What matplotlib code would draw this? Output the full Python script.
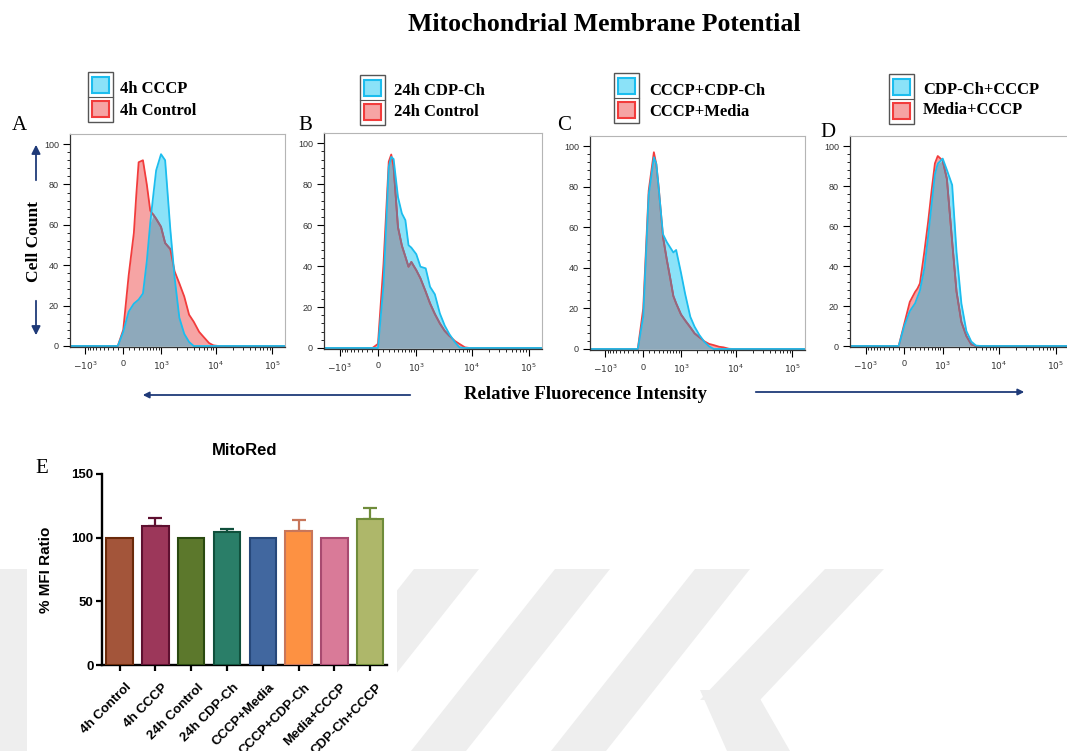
import numpy as np
import matplotlib.pyplot as plt
import matplotlib.transforms as mtransforms
from matplotlib.patches import Rectangle, Polygon, FancyArrowPatch

plt.rcParams['font.family'] = ['Liberation Serif', 'DejaVu Serif']

W, H = 1067, 751

# fluorescence channel values shared by the four histograms
fluor = np.array([-2000, -200, -100, 0, 100, 200, 250, 300, 400, 500, 600, 700,
                  800, 1000, 1200, 1500, 1800, 2200, 2700, 3300, 4000, 5000,
                  6000, 7500, 9000, 11000, 13000, 200000])

# cell counts (cyan = treated, red = reference)
a_cccp = [0, 0, 0, 7, 17, 21, 22, 23, 26, 42, 61, 75, 87, 95, 92, 58, 34, 14, 6, 2, 0, 0, 0, 0, 0, 0, 0, 0]
a_control = [0, 0, 0, 8, 35, 56, 75, 91, 92, 80, 67, 65, 63, 59, 51, 48, 37, 31, 24.5, 15.5, 12, 7, 4.5, 1.5, 0.3, 0, 0, 0]
b_cdpch = [0, 0, 0, 0, 30.7, 88.5, 93.3, 92.3, 73.7, 65.7, 62.4, 50.2, 49, 45.8, 39.7, 38.9, 29.9, 26.2, 16.9, 10.9, 6.7, 2.8, 0.3, 0, 0, 0, 0, 0]
b_control = [0, 0, 0, 2, 41, 91, 94.5, 88.5, 59, 50, 44.6, 39.7, 42, 38, 34, 27.5, 21.8, 16.6, 12, 8.3, 5.9, 3.4, 2, 0.3, 0, 0, 0, 0]
c_cdpch = [0, 0, 0, 16, 76, 94.5, 91.3, 79.5, 56.6, 52.7, 50, 47.6, 48.8, 37.5, 27.2, 15.9, 11, 6.9, 3.6, 1.3, 0, 0, 0, 0, 0, 0, 0, 0]
c_media = [0, 0, 0, 20, 78, 97, 91, 80, 55.4, 44, 34.8, 26.1, 22.5, 17, 14.1, 10.7, 7.7, 5.8, 3.8, 2.5, 1.9, 1.1, 0.8, 0.1, 0, 0, 0, 0]
d_cdpch = [0, 0, 0, 10, 17.4, 21.3, 24.6, 27.7, 38.8, 55.5, 71.5, 85.8, 91.2, 93.7, 88, 80.5, 47, 21.3, 7.5, 2.2, 0.2, 0, 0, 0, 0, 0, 0, 0]
d_media = [0, 0, 0, 11, 22, 27, 28.8, 31.3, 47, 62.5, 78.3, 91.3, 95, 92.7, 83.5, 52.2, 27.2, 12, 5, 0.8, 0, 0, 0, 0, 0, 0, 0, 0]

legend_labels = [("4h CCCP", "4h Control"), ("24h CDP-Ch", "24h Control"),
                 ("CCCP+CDP-Ch", "CCCP+Media"), ("CDP-Ch+CCCP", "Media+CCCP")]

bar_names = ["4h Control", "4h CCCP", "24h Control", "24h CDP-Ch",
             "CCCP+Media", "CCCP+CDP-Ch", "Media+CCCP", "CDP-Ch+CCCP"]
bar_values = [100, 109.2, 100, 104.7, 100, 105.5, 100, 114.4]
bar_err = [0, 6.0, 0, 2.1, 0, 8.4, 0, 8.7]
bar_fill = ['#a3553a', '#9c375a', '#5c782c', '#2a7e68', '#41679f', '#fd9142', '#d97a98', '#aeb76a']
bar_edge = ['#6b2a0a', '#5e1030', '#2a4a10', '#10503c', '#27487a', '#c8765a', '#a84a70', '#6f8c3a']

NAVY = '#1f3a78'


def px_box(l, t, r, b):
    return [l / W, 1 - b / H, (r - l) / W, (b - t) / H]


def fxy(x, y):
    return (x / W, 1 - y / H)


fig = plt.figure(figsize=(W / 100, H / 100), dpi=100)

# faint watermark behind the lower half
watermark = [
    [(0, 569), (27, 569), (27, 751), (0, 751)],
    [(414, 569), (479, 569), (335, 751), (270, 751)],
    [(555, 569), (610, 569), (466, 751), (411, 751)],
    [(695, 569), (750, 569), (606, 751), (551, 751)],
    [(825, 569), (884, 569), (760, 700), (700, 700)],
    [(700, 690), (755, 690), (790, 751), (727, 751)],
]
for poly in watermark:
    fig.add_artist(Polygon([fxy(*p) for p in poly], closed=True, transform=fig.transFigure,
                           facecolor='#eeeeee', edgecolor='none', zorder=-3))
fig.add_artist(Rectangle(fxy(27, 751), 370 / W, 331 / H, transform=fig.transFigure,
                         facecolor='white', edgecolor='none', zorder=-2))


def histogram(rect, cyan, red):
    cyan = np.asarray(cyan, float)
    red = np.asarray(red, float)
    ax = fig.add_axes(px_box(*rect))
    ax.set_xscale('asinh', linear_width=444)
    ax.fill_between(fluor, 0, red, color='#f6a4a4', lw=0)
    ax.fill_between(fluor, 0, cyan, color='#8be2f8', lw=0)
    ax.fill_between(fluor, 0, np.minimum(cyan, red), color='#8ea9bb', lw=0)
    ax.plot(fluor, red, color='#f23c3c', lw=1.3)
    ax.plot(fluor, np.where(red < cyan, red, np.nan), color='#8d6a84', lw=1.3)
    ax.plot(fluor, cyan, color='#1cbdee', lw=1.3)
    ax.set_xlim(-1950, 170000)
    ax.set_ylim(-0.5, 105)
    ax.set_xticks([-1000, 0, 1000, 1e4, 1e5], ['$-10^3$', '0', '$10^3$', '$10^4$', '$10^5$'])
    minor = (list(range(-900, 0, 100)) + list(range(100, 1000, 100))
             + list(range(2000, 10000, 1000)) + list(range(20000, 100000, 10000)))
    ax.set_xticks(minor, minor=True)
    ax.set_yticks(range(0, 101, 20))
    ax.set_yticks(range(0, 101, 4), minor=True)
    ax.tick_params(which='major', length=5, width=0.8, labelsize=6.5, labelcolor='#333333', pad=3)
    ax.tick_params(which='minor', length=2.5, width=0.6)
    ax.tick_params(axis='x', which='major', pad=4)
    for lbl in ax.get_xticklabels() + ax.get_yticklabels():
        lbl.set_family('Liberation Sans')
    for side in ('top', 'right'):
        ax.spines[side].set_color('#b5b5b5')
        ax.spines[side].set_linewidth(0.8)
    for side in ('left', 'bottom'):
        ax.spines[side].set_color('#333333')
        ax.spines[side].set_linewidth(0.9)
    return ax


def legend(box, text_x, baselines, labels):
    l, t, r, b = box
    mid = (t + b) / 2
    fig.add_artist(Rectangle(fxy(l, b), (r - l) / W, (b - t) / H, transform=fig.transFigure,
                             facecolor='white', edgecolor='#555555', lw=1.0))
    fig.add_artist(plt.Line2D([l / W, r / W], [1 - mid / H] * 2, transform=fig.transFigure,
                              color='#555555', lw=0.8))
    fig.add_artist(Rectangle(fxy(l + 4, mid - 4), (r - l - 8) / W, (mid - t - 9) / H,
                             transform=fig.transFigure, facecolor='#8be2f8',
                             edgecolor='#1cbdee', lw=1.5))
    fig.add_artist(Rectangle(fxy(l + 4, b - 5), (r - l - 8) / W, (b - mid - 9) / H,
                             transform=fig.transFigure, facecolor='#f6a4a4',
                             edgecolor='#f23c3c', lw=1.5))
    for lab, yb in zip(labels, baselines):
        fig.text(text_x / W, 1 - yb / H, lab, fontsize=12, fontweight='bold', va='baseline')


panels = [
    ((70, 134, 285, 347), a_cccp, a_control, (88, 72, 113, 122), 120, (93, 115), 'A', (12, 130)),
    ((324, 133, 542, 349), b_cdpch, b_control, (360, 75, 385, 125), 394, (95, 116), 'B', (298, 130)),
    ((590, 136, 805, 350), c_cdpch, c_media, (614, 73, 639, 123), 649, (95, 116), 'C', (557, 130)),
    ((850, 136, 1069, 347), d_cdpch, d_media, (889, 74, 914, 124), 923, (94, 114), 'D', (820, 137)),
]
for i, (rect, cy, rd, lbox, tx, bl, letter, lpos) in enumerate(panels):
    histogram(rect, cy, rd)
    legend(lbox, tx, bl, legend_labels[i])
    fig.text(lpos[0] / W, 1 - lpos[1] / H, letter, fontsize=15, va='baseline')

fig.text(604 / W, 1 - 31 / H, 'Mitochondrial Membrane Potential', fontsize=18.5,
         fontweight='bold', ha='center', va='baseline')
fig.text(34 / W, 1 - 241 / H, 'Cell Count', fontsize=12.5, fontweight='bold',
         rotation=90, ha='center', va='center')
fig.text(585 / W, 1 - 394 / H, 'Relative Fluorecence Intensity', fontsize=13.5,
         fontweight='bold', ha='center', va='center')

arrows = [((36, 183), (36, 142), 13), ((36, 298), (36, 338), 13),
          ((413, 395), (140, 395), 9), ((753, 392), (1027, 392), 9)]
for a, b, ms in arrows:
    fig.add_artist(FancyArrowPatch(fxy(*a), fxy(*b), transform=fig.transFigure,
                                   arrowstyle='-|>', mutation_scale=ms, color=NAVY, lw=1.3))

# panel E: bar chart
axE = fig.add_axes(px_box(102, 474, 387, 665))
xpos = np.arange(len(bar_names))
axE.bar(xpos, bar_values, width=0.74, color=bar_fill, edgecolor=bar_edge, linewidth=1.5, zorder=3)
for i in range(len(bar_names)):
    if bar_err[i] > 0:
        axE.errorbar(xpos[i], bar_values[i], yerr=[[0], [bar_err[i]]], fmt='none',
                     ecolor=bar_edge[i], elinewidth=1.6, capsize=4.7, capthick=1.6, zorder=2)
axE.set_xlim(-0.49, 7.47)
axE.set_ylim(0, 150)
axE.set_yticks([0, 50, 100, 150])
axE.set_xticks(xpos)
axE.set_xticklabels(bar_names, rotation=45, ha='right', rotation_mode='anchor')
for side in ('top', 'right'):
    axE.spines[side].set_visible(False)
for side in ('left', 'bottom'):
    axE.spines[side].set_linewidth(1.7)
axE.tick_params(width=1.6, length=4.5, labelsize=9.5, pad=1.5)
shift = mtransforms.ScaledTranslation(6 / 100, -8 / 100, fig.dpi_scale_trans)
for lbl in axE.get_xticklabels():
    lbl.set_transform(lbl.get_transform() + shift)
for lbl in axE.get_xticklabels() + axE.get_yticklabels():
    lbl.set_family('Liberation Sans')
    lbl.set_fontweight('bold')
axE.set_title('MitoRed', fontsize=12, fontweight='bold', family='Liberation Sans', pad=14)
axE.set_ylabel('% MFI Ratio', fontsize=11, fontweight='bold', family='Liberation Sans', labelpad=13)
fig.text(35 / W, 1 - 473 / H, 'E', fontsize=15, va='baseline')

fig.savefig('out.png', dpi=100)
